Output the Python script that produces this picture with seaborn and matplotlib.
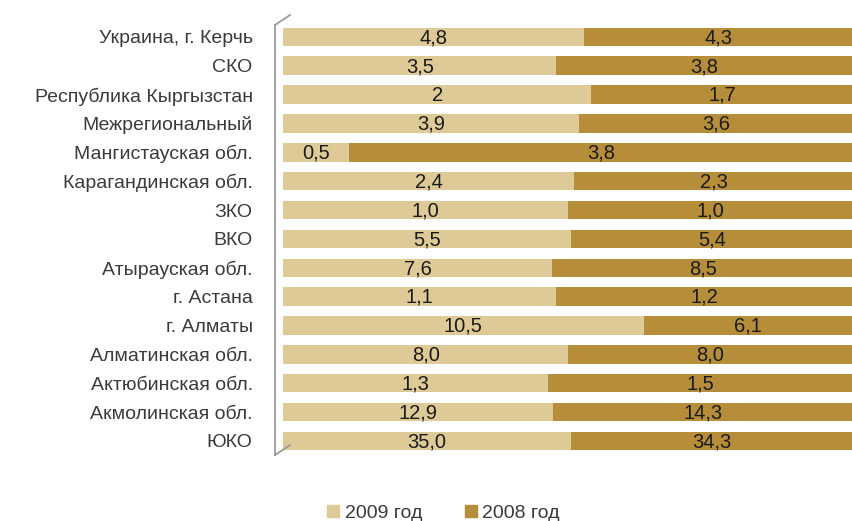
import pandas as pd
import matplotlib.pyplot as plt
import matplotlib.lines as mlines
import seaborn as sns

# регионы сверху вниз
REGIONS = [
    "Украина, г. Керчь", "СКО", "Республика Кыргызстан", "Межрегиональный",
    "Мангистауская обл.", "Карагандинская обл.", "ЗКО", "ВКО",
    "Атырауская обл.", "г. Астана", "г. Алматы", "Алматинская обл.",
    "Актюбинская обл.", "Акмолинская обл.", "ЮКО",
]
LABELS_2009 = ["4,8", "3,5", "2", "3,9", "0,5", "2,4", "1,0", "5,5",
               "7,6", "1,1", "10,5", "8,0", "1,3", "12,9", "35,0"]
LABELS_2008 = ["4,3", "3,8", "1,7", "3,6", "3,8", "2,3", "1,0", "5,4",
               "8,5", "1,2", "6,1", "8,0", "1,5", "14,3", "34,3"]

C_2009 = "#DECA97"
C_2008 = "#B68E3A"

plt.rcParams["font.family"] = ["Liberation Sans", "DejaVu Sans"]


def to_num(s):
    return float(s.replace(",", "."))


df = pd.DataFrame({
    "region": REGIONS,
    "v2009": [to_num(s) for s in LABELS_2009],
    "v2008": [to_num(s) for s in LABELS_2008],
})
df["total"] = df["v2009"] + df["v2008"]
df["p2009"] = df["v2009"] / df["total"] * 100
df["p100"] = 100.0

fig = plt.figure(figsize=(8.53, 5.21), dpi=100)
ax = fig.add_axes([0.332, 0.126, 0.668, 0.831])

sns.barplot(data=df, y="region", x="p100", color=C_2008, orient="h",
            width=0.64, saturation=1, ax=ax)
sns.barplot(data=df, y="region", x="p2009", color=C_2009, orient="h",
            width=0.64, saturation=1, ax=ax)

for i, row in df.iterrows():
    ax.text(row["p2009"] / 2, i + 0.03, LABELS_2009[i], ha="center",
            va="center", fontsize=14.5, color="#1a1a1a")
    ax.text(row["p2009"] + (100 - row["p2009"]) / 2, i + 0.03, LABELS_2008[i],
            ha="center", va="center", fontsize=14.5, color="#1a1a1a")

ax.set_xlim(0, 100)
ax.set_ylim(14.5, -0.5)
ax.set_xlabel("")
ax.set_ylabel("")
ax.set_xticks([])
ax.tick_params(axis="y", length=0, pad=22, labelsize=14, labelcolor="#3a3a3a")
for sp in ax.spines.values():
    sp.set_visible(False)

# стенка "3D" слева
wall = dict(color="#9a9a9a", lw=1.3, transform=fig.transFigure, clip_on=False)
x0, x1 = 275 / 853, 290 / 853
fig.add_artist(mlines.Line2D([x0, x0], [1 - 25 / 521, 1 - 455 / 521], **wall))
fig.add_artist(mlines.Line2D([x0, x1], [1 - 25 / 521, 1 - 15 / 521], **wall))
fig.add_artist(mlines.Line2D([x0, x1], [1 - 455 / 521, 1 - 445 / 521], **wall))

handles = [
    plt.Rectangle((0, 0), 1, 1, color=C_2009),
    plt.Rectangle((0, 0), 1, 1, color=C_2008),
]
fig.legend(handles, ["2009 год", "2008 год"], loc="lower center",
           bbox_to_anchor=(0.52, -0.035), ncol=2, frameon=False, fontsize=14,
           labelcolor="#3a3a3a", handlelength=0.6, handleheight=0.6,
           handletextpad=0.3, columnspacing=2.2)

fig.savefig("out.png", dpi=100)
